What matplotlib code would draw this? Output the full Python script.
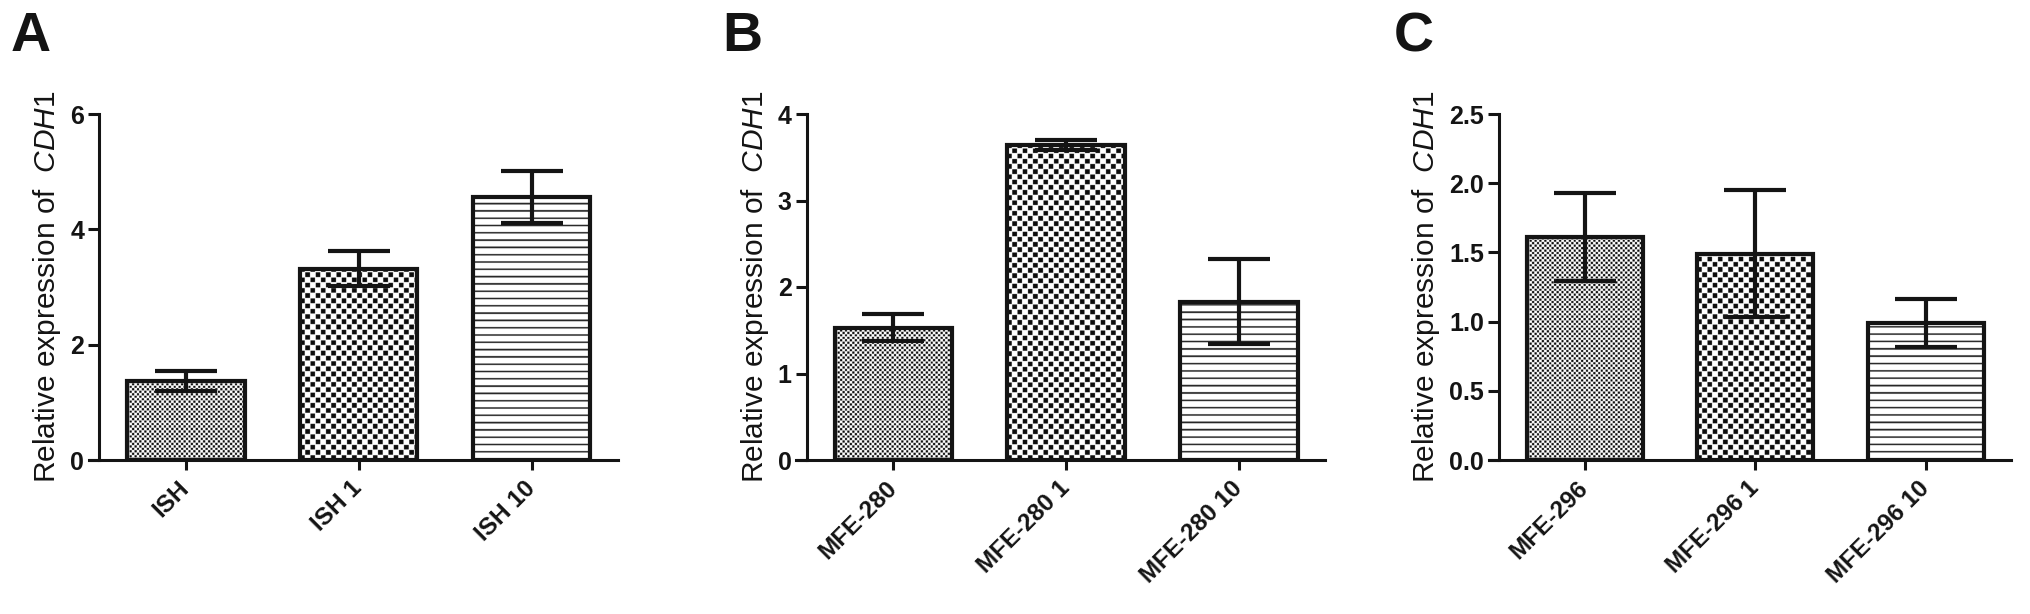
import numpy as np
import matplotlib
matplotlib.use("Agg")
import matplotlib.pyplot as plt

plt.rcParams['font.family'] = ['Liberation Sans', 'DejaVu Sans']
plt.rcParams['mathtext.fontset'] = 'custom'
plt.rcParams['mathtext.rm'] = 'Liberation Sans'
plt.rcParams['mathtext.it'] = 'Liberation Sans:italic'

# --- data ---
labels_a = ['ISH', 'ISH 1', 'ISH 10']
means_a = [1.37, 3.32, 4.56]
sem_a = [0.17, 0.31, 0.45]

labels_b = ['MFE-280', 'MFE-280 1', 'MFE-280 10']
means_b = [1.53, 3.64, 1.83]
sem_b = [0.16, 0.06, 0.49]

labels_c = ['MFE-296', 'MFE-296 1', 'MFE-296 10']
means_c = [1.61, 1.49, 0.99]
sem_c = [0.32, 0.46, 0.17]

yticks_a = [0, 2, 4, 6]
yticks_b = [0, 1, 2, 3, 4]
yticks_c = [0.0, 0.5, 1.0, 1.5, 2.0, 2.5]

patterns = ['fine', 'coarse', 'lines']
ink = '#141414'

W, H = 2031, 614
fig = plt.figure(figsize=(W / 100, H / 100), dpi=100)


def texture(kind, nx, ny, ss=4):
    # pattern image in sub-pixels (ss per screen pixel)
    jj, ii = np.meshgrid(np.arange(nx * ss), np.arange(ny * ss))
    if kind == 'lines':
        period = 7.3 * ss
        img = np.where((ii % period) < 1.6 * ss, 0.15, 1.0)
    else:
        cell = (2.45 if kind == 'fine' else 5.2) * ss
        cx, cy = jj / cell, ii / cell
        on = ((np.floor(cx) + np.floor(cy)) % 2) == 0
        inner = ((cx % 1) < 0.88) & ((cy % 1) < 0.88)
        img = np.where(on & inner, 0.05, 1.0)
    return img


def panel(left_px, width_px, letter, letter_x, cats, means, sems, ymax, yticks, ylabelpad):
    top_px, bot_px = 114, 460
    ax = fig.add_axes([left_px / W, (H - bot_px) / H, width_px / W, (bot_px - top_px) / H])
    x = np.arange(len(cats))
    ax.set_xlim(-0.56, 2.5)
    ax.set_ylim(0, ymax)

    bars = ax.bar(x, means, width=0.68, color='white', edgecolor='none', zorder=1)
    for bar, kind in zip(bars, patterns):
        x0, y0 = bar.get_x(), bar.get_y()
        w, h = bar.get_width(), bar.get_height()
        (p0x, p0y), (p1x, p1y) = ax.transData.transform([(x0, y0), (x0 + w, y0 + h)])
        nx, ny = int(round(p1x - p0x)), int(round(p1y - p0y))
        ax.imshow(texture(kind, nx, ny), extent=(x0, x0 + w, y0, y0 + h), origin='lower',
                  cmap='gray', vmin=0, vmax=1, aspect='auto', interpolation='antialiased',
                  clip_path=bar, zorder=1.5)
    ax.bar(x, means, width=0.68, facecolor='none', edgecolor=ink, linewidth=3.0, zorder=2)
    ax.errorbar(x, means, yerr=sems, fmt='none', ecolor=ink, elinewidth=3.0,
                capsize=22, capthick=3.0, zorder=3)
    ax.set_xlim(-0.56, 2.5)
    ax.set_ylim(0, ymax)

    for side in ['top', 'right']:
        ax.spines[side].set_visible(False)
    ax.spines['left'].set_position(('data', -0.5))
    ax.spines['left'].set_linewidth(2.2)
    ax.spines['bottom'].set_linewidth(2.2)
    ax.spines['left'].set_color(ink)
    ax.spines['bottom'].set_color(ink)

    ax.set_yticks(yticks)
    if isinstance(yticks[1], float):
        ax.set_yticklabels([f'{t:.1f}' for t in yticks])
    ax.set_xticks(x)
    ax.set_xticklabels(cats, rotation=45, ha='right', va='center', rotation_mode='anchor')
    ax.tick_params(axis='y', direction='out', length=8, width=2.2, color=ink, pad=3,
                   labelsize=18)
    ax.tick_params(axis='x', direction='out', length=7, width=2.2, color=ink, pad=11,
                   labelsize=17.5)
    for t in ax.get_xticklabels() + ax.get_yticklabels():
        t.set_fontweight('bold')
        t.set_color(ink)

    ax.set_ylabel(r'Relative expression of  $\mathit{CDH1}$', fontsize=21.5, color=ink,
                  labelpad=ylabelpad)
    fig.text(letter_x / W, 1 - 11 / H, letter, fontsize=40, fontweight='bold',
             ha='left', va='top', color=ink)
    return ax


panel(89, 529, 'A', 11, labels_a, means_a, sem_a, 6, yticks_a, 5)
panel(796.5, 529, 'B', 722, labels_b, means_b, sem_b, 4, yticks_b, 5)
panel(1489, 522, 'C', 1394, labels_c, means_c, sem_c, 2.5, yticks_c, 5)

fig.savefig('out.png', dpi=100)
